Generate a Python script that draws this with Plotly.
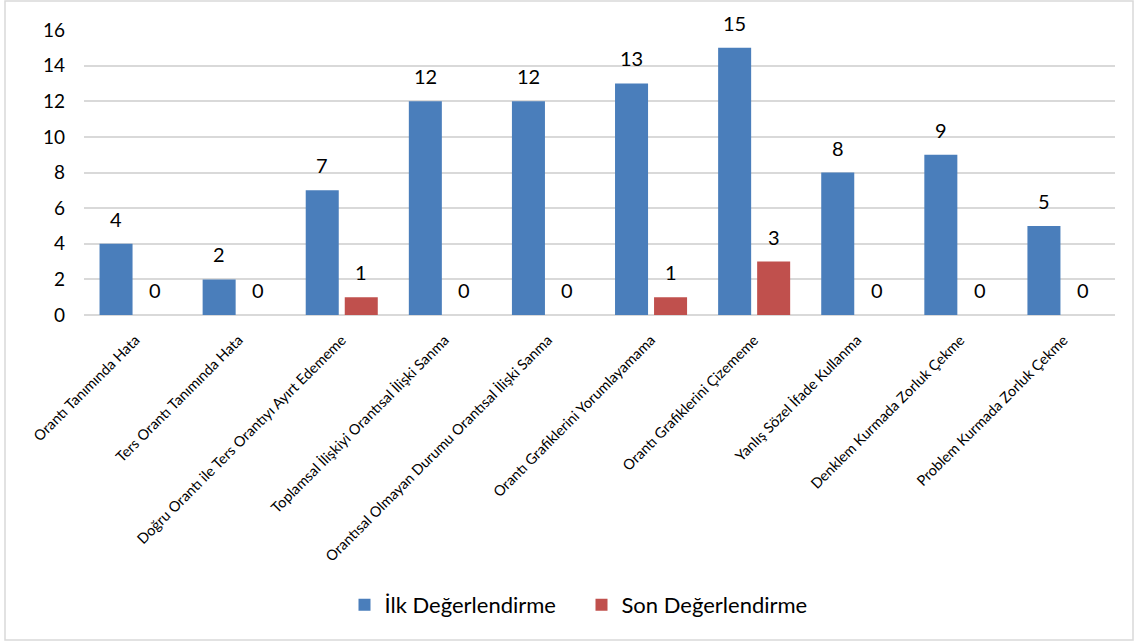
import plotly.graph_objects as go

categories = [
    "Orantı Tanımında Hata",
    "Ters Orantı Tanımında Hata",
    "Doğru Orantı ile Ters Orantıyı Ayırt Edememe",
    "Toplamsal İlişkiyi Orantısal İlişki Sanma",
    "Orantısal Olmayan Durumu Orantısal İlişki Sanma",
    "Orantı Grafiklerini Yorumlayamama",
    "Orantı Grafiklerini Çizememe",
    "Yanlış Sözel İfade Kullanma",
    "Denklem Kurmada Zorluk Çekme",
    "Problem Kurmada Zorluk Çekme",
]
ilk_values = [4, 2, 7, 12, 12, 13, 15, 8, 9, 5]
son_values = [0, 0, 1, 0, 0, 1, 3, 0, 0, 0]
y_ticks = [0, 2, 4, 6, 8, 10, 12, 14, 16]

FONT = "Lato, 'Open Sans', sans-serif"
W, H = 1140, 643
M_L, M_R, M_T, M_B = 84, 25, 30, 328
BARGAP, GROUPGAP = 0.243, 0.154

fig = go.Figure()
fig.add_trace(go.Bar(
    name="İlk Değerlendirme", x=categories, y=ilk_values,
    marker=dict(color="#4a7ebb", line=dict(width=0)),
))
fig.add_trace(go.Bar(
    name="Son Değerlendirme", x=categories, y=son_values,
    marker=dict(color="#c0504d", line=dict(width=0)),
))

# value labels floating above each bar, offset to the bar's slot in its group
plot_w = W - M_L - M_R
plot_h = H - M_T - M_B
slot = plot_w / len(categories) * (1 - BARGAP) / 2
annotations = []
for series, sign in ((ilk_values, -1), (son_values, 1)):
    for cat, v in zip(categories, series):
        annotations.append(dict(
            x=cat, y=v, xref="x", yref="y", text=str(v), showarrow=False,
            xanchor="center", yanchor="middle", xshift=sign * slot / 2, yshift=25,
            font=dict(size=20, color="#000000", family=FONT),
        ))

fig.update_layout(
    width=W, height=H,
    margin=dict(l=M_L, r=M_R, t=M_T, b=M_B),
    paper_bgcolor="white", plot_bgcolor="white",
    barmode="group", bargap=BARGAP, bargroupgap=GROUPGAP,
    font=dict(family=FONT, color="#000000"),
    showlegend=True,
    legend=dict(orientation="h", x=0.5 - 18 / plot_w, xanchor="center",
                y=-(605 - (H - M_B)) / plot_h, yanchor="middle",
                font=dict(size=22, family=FONT), itemsizing="constant", traceorder="normal",
                entrywidth=192, entrywidthmode="pixels"),
    annotations=annotations,
    shapes=[dict(type="rect", xref="paper", yref="paper",
                 x0=(5 - M_L) / plot_w, x1=(1133 - M_L) / plot_w,
                 y0=-(640 - (H - M_B)) / plot_h, y1=((H - M_B) - 1) / plot_h,
                 line=dict(color="#d9d9d9", width=1.5), fillcolor="rgba(0,0,0,0)", layer="below")],
)
fig.update_yaxes(range=[0, 16], tickvals=y_ticks, showgrid=True, gridcolor="#d9d9d9", gridwidth=1.5,
                 zeroline=True, zerolinecolor="#d9d9d9", zerolinewidth=1.5, showline=False,
                 tickfont=dict(size=19, family=FONT), ticks="", ticklen=0, ticklabelstandoff=18)
fig.update_xaxes(tickangle=-45, tickfont=dict(size=14.5, family=FONT), showline=False,
                 showgrid=False, ticks="outside", ticklen=10, tickcolor="rgba(0,0,0,0)")

fig.write_html("out.html")
